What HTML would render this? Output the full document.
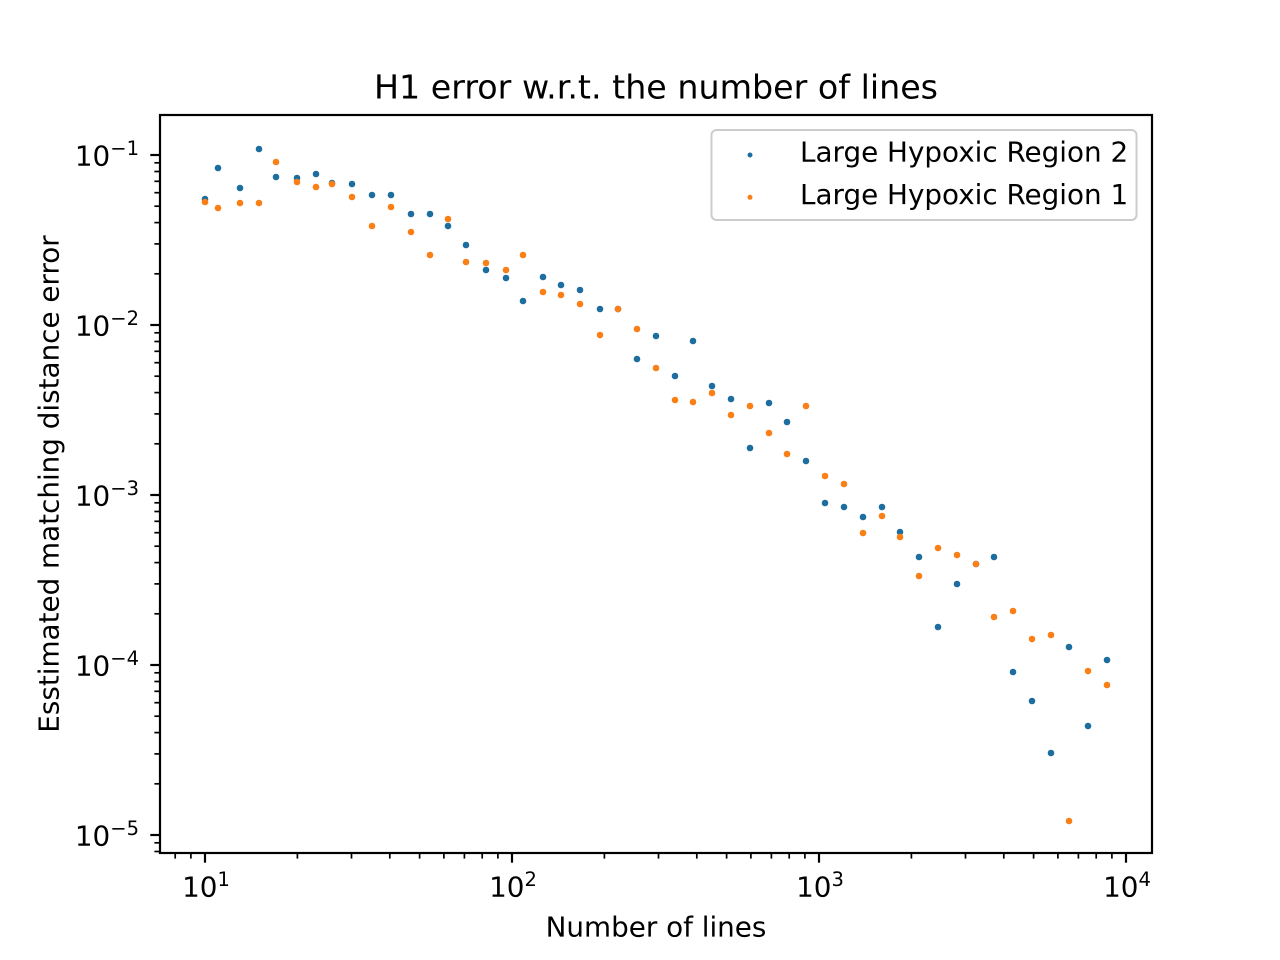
<!DOCTYPE html>
<html><head><meta charset="utf-8"><style>
html,body{margin:0;padding:0;background:#fff;}
svg{display:block;}
text{font-family:"DejaVu Sans","Liberation Sans",sans-serif;fill:#000;}
</style></head><body>
<svg width="1280" height="960" viewBox="0 0 1280 960" xmlns="http://www.w3.org/2000/svg">
<rect x="0" y="0" width="1280" height="960" fill="#fff"/>
<text x="656" y="98.5" font-size="33.3" text-anchor="middle">H1 error w.r.t. the number of lines</text>

<!-- blue series (Region 2) -->
<g fill="#1d6e9e">
<circle cx="205" cy="199" r="3.3"/><circle cx="218" cy="168" r="3.3"/><circle cx="240" cy="188" r="3.3"/><circle cx="259" cy="149" r="3.3"/><circle cx="276" cy="177" r="3.3"/><circle cx="297" cy="178" r="3.3"/><circle cx="316" cy="174" r="3.3"/><circle cx="332" cy="183" r="3.3"/><circle cx="352" cy="184" r="3.3"/><circle cx="372" cy="195" r="3.3"/><circle cx="391" cy="195" r="3.3"/><circle cx="411" cy="214" r="3.3"/><circle cx="430" cy="214" r="3.3"/><circle cx="448" cy="226" r="3.3"/><circle cx="466" cy="245" r="3.3"/><circle cx="486" cy="270" r="3.3"/><circle cx="506" cy="278" r="3.3"/><circle cx="523" cy="301" r="3.3"/><circle cx="543" cy="277" r="3.3"/><circle cx="561" cy="285" r="3.3"/><circle cx="580" cy="290" r="3.3"/><circle cx="600" cy="309" r="3.3"/><circle cx="618" cy="309" r="3.3"/><circle cx="637" cy="359" r="3.3"/><circle cx="656" cy="336" r="3.3"/><circle cx="675" cy="376" r="3.3"/><circle cx="693" cy="341" r="3.3"/><circle cx="712" cy="386" r="3.3"/><circle cx="731" cy="399" r="3.3"/><circle cx="750" cy="448" r="3.3"/><circle cx="769" cy="403" r="3.3"/><circle cx="787" cy="422" r="3.3"/><circle cx="806" cy="461" r="3.3"/><circle cx="825" cy="503" r="3.3"/><circle cx="844" cy="507" r="3.3"/><circle cx="863" cy="517" r="3.3"/><circle cx="882" cy="507" r="3.3"/><circle cx="900" cy="532" r="3.3"/><circle cx="919" cy="557" r="3.3"/><circle cx="938" cy="627" r="3.3"/><circle cx="957" cy="584" r="3.3"/><circle cx="976" cy="564" r="3.3"/><circle cx="994" cy="557" r="3.3"/><circle cx="1013" cy="672" r="3.3"/><circle cx="1032" cy="701" r="3.3"/><circle cx="1051" cy="753" r="3.3"/><circle cx="1069" cy="647" r="3.3"/><circle cx="1088" cy="726" r="3.3"/><circle cx="1107" cy="660" r="3.3"/>
</g>
<!-- orange series (Region 1) -->
<g fill="#fa7f16">
<circle cx="205" cy="202" r="3.3"/><circle cx="218" cy="208" r="3.3"/><circle cx="240" cy="203" r="3.3"/><circle cx="259" cy="203" r="3.3"/><circle cx="276" cy="162" r="3.3"/><circle cx="297" cy="182" r="3.3"/><circle cx="316" cy="187" r="3.3"/><circle cx="332" cy="184" r="3.3"/><circle cx="352" cy="197" r="3.3"/><circle cx="372" cy="226" r="3.3"/><circle cx="391" cy="207" r="3.3"/><circle cx="411" cy="232" r="3.3"/><circle cx="430" cy="255" r="3.3"/><circle cx="448" cy="219" r="3.3"/><circle cx="466" cy="262" r="3.3"/><circle cx="486" cy="263" r="3.3"/><circle cx="506" cy="270" r="3.3"/><circle cx="523" cy="255" r="3.3"/><circle cx="543" cy="292" r="3.3"/><circle cx="561" cy="295" r="3.3"/><circle cx="580" cy="304" r="3.3"/><circle cx="600" cy="335" r="3.3"/><circle cx="618" cy="309" r="3.3"/><circle cx="637" cy="329" r="3.3"/><circle cx="656" cy="368" r="3.3"/><circle cx="675" cy="400" r="3.3"/><circle cx="693" cy="402" r="3.3"/><circle cx="712" cy="393" r="3.3"/><circle cx="731" cy="415" r="3.3"/><circle cx="750" cy="406" r="3.3"/><circle cx="769" cy="433" r="3.3"/><circle cx="787" cy="454" r="3.3"/><circle cx="806" cy="406" r="3.3"/><circle cx="825" cy="476" r="3.3"/><circle cx="844" cy="484" r="3.3"/><circle cx="863" cy="533" r="3.3"/><circle cx="882" cy="516" r="3.3"/><circle cx="900" cy="537" r="3.3"/><circle cx="919" cy="576" r="3.3"/><circle cx="938" cy="548" r="3.3"/><circle cx="957" cy="555" r="3.3"/><circle cx="976" cy="564" r="3.3"/><circle cx="994" cy="617" r="3.3"/><circle cx="1013" cy="611" r="3.3"/><circle cx="1032" cy="639" r="3.3"/><circle cx="1051" cy="635" r="3.3"/><circle cx="1069" cy="821" r="3.3"/><circle cx="1088" cy="671" r="3.3"/><circle cx="1107" cy="685" r="3.3"/>
</g>

<!-- spines -->
<rect x="160" y="115" width="992" height="738" fill="none" stroke="#000" stroke-width="2.2"/>

<!-- x major ticks -->
<g stroke="#000" stroke-width="2.2">
<line x1="205" y1="853" x2="205" y2="862.7"/><line x1="512" y1="853" x2="512" y2="862.7"/><line x1="819" y1="853" x2="819" y2="862.7"/><line x1="1126" y1="853" x2="1126" y2="862.7"/>
</g>
<!-- x minor ticks -->
<g stroke="#000" stroke-width="1.7">
<line x1="175.2" y1="853" x2="175.2" y2="858.6"/><line x1="190.9" y1="853" x2="190.9" y2="858.6"/>
<line x1="297.4" y1="853" x2="297.4" y2="858.6"/><line x1="351.5" y1="853" x2="351.5" y2="858.6"/><line x1="389.8" y1="853" x2="389.8" y2="858.6"/><line x1="419.6" y1="853" x2="419.6" y2="858.6"/><line x1="443.9" y1="853" x2="443.9" y2="858.6"/><line x1="464.4" y1="853" x2="464.4" y2="858.6"/><line x1="482.2" y1="853" x2="482.2" y2="858.6"/><line x1="497.9" y1="853" x2="497.9" y2="858.6"/>
<line x1="604.4" y1="853" x2="604.4" y2="858.6"/><line x1="658.5" y1="853" x2="658.5" y2="858.6"/><line x1="696.8" y1="853" x2="696.8" y2="858.6"/><line x1="726.6" y1="853" x2="726.6" y2="858.6"/><line x1="750.9" y1="853" x2="750.9" y2="858.6"/><line x1="771.4" y1="853" x2="771.4" y2="858.6"/><line x1="789.2" y1="853" x2="789.2" y2="858.6"/><line x1="804.9" y1="853" x2="804.9" y2="858.6"/>
<line x1="911.4" y1="853" x2="911.4" y2="858.6"/><line x1="965.5" y1="853" x2="965.5" y2="858.6"/><line x1="1003.8" y1="853" x2="1003.8" y2="858.6"/><line x1="1033.6" y1="853" x2="1033.6" y2="858.6"/><line x1="1057.9" y1="853" x2="1057.9" y2="858.6"/><line x1="1078.4" y1="853" x2="1078.4" y2="858.6"/><line x1="1096.2" y1="853" x2="1096.2" y2="858.6"/><line x1="1111.9" y1="853" x2="1111.9" y2="858.6"/>
</g>
<!-- y major ticks -->
<g stroke="#000" stroke-width="2.2">
<line x1="160" y1="155" x2="150.3" y2="155"/><line x1="160" y1="325" x2="150.3" y2="325"/><line x1="160" y1="495" x2="150.3" y2="495"/><line x1="160" y1="665" x2="150.3" y2="665"/><line x1="160" y1="835" x2="150.3" y2="835"/>
</g>
<!-- y minor ticks -->
<g stroke="#000" stroke-width="1.7">
<line x1="160" y1="273.8" x2="154.4" y2="273.8"/><line x1="160" y1="243.9" x2="154.4" y2="243.9"/><line x1="160" y1="222.6" x2="154.4" y2="222.6"/><line x1="160" y1="206.2" x2="154.4" y2="206.2"/><line x1="160" y1="192.7" x2="154.4" y2="192.7"/><line x1="160" y1="181.3" x2="154.4" y2="181.3"/><line x1="160" y1="171.5" x2="154.4" y2="171.5"/><line x1="160" y1="162.8" x2="154.4" y2="162.8"/>
<line x1="160" y1="443.8" x2="154.4" y2="443.8"/><line x1="160" y1="413.9" x2="154.4" y2="413.9"/><line x1="160" y1="392.6" x2="154.4" y2="392.6"/><line x1="160" y1="376.2" x2="154.4" y2="376.2"/><line x1="160" y1="362.7" x2="154.4" y2="362.7"/><line x1="160" y1="351.3" x2="154.4" y2="351.3"/><line x1="160" y1="341.5" x2="154.4" y2="341.5"/><line x1="160" y1="332.8" x2="154.4" y2="332.8"/>
<line x1="160" y1="613.8" x2="154.4" y2="613.8"/><line x1="160" y1="583.9" x2="154.4" y2="583.9"/><line x1="160" y1="562.6" x2="154.4" y2="562.6"/><line x1="160" y1="546.2" x2="154.4" y2="546.2"/><line x1="160" y1="532.7" x2="154.4" y2="532.7"/><line x1="160" y1="521.3" x2="154.4" y2="521.3"/><line x1="160" y1="511.5" x2="154.4" y2="511.5"/><line x1="160" y1="502.8" x2="154.4" y2="502.8"/>
<line x1="160" y1="783.8" x2="154.4" y2="783.8"/><line x1="160" y1="753.9" x2="154.4" y2="753.9"/><line x1="160" y1="732.6" x2="154.4" y2="732.6"/><line x1="160" y1="716.2" x2="154.4" y2="716.2"/><line x1="160" y1="702.7" x2="154.4" y2="702.7"/><line x1="160" y1="691.3" x2="154.4" y2="691.3"/><line x1="160" y1="681.5" x2="154.4" y2="681.5"/><line x1="160" y1="672.8" x2="154.4" y2="672.8"/>
<line x1="160" y1="851.5" x2="154.4" y2="851.5"/><line x1="160" y1="842.8" x2="154.4" y2="842.8"/>
</g>

<!-- x tick labels -->
<g font-size="27.8" text-anchor="middle">
<text x="206" y="896.7">10<tspan font-size="19.5" dy="-10.5">1</tspan></text>
<text x="513" y="896.7">10<tspan font-size="19.5" dy="-10.5">2</tspan></text>
<text x="820" y="896.7">10<tspan font-size="19.5" dy="-10.5">3</tspan></text>
<text x="1127" y="896.7">10<tspan font-size="19.5" dy="-10.5">4</tspan></text>
</g>
<!-- y tick labels -->
<g font-size="27.8" text-anchor="end">
<text x="139" y="165.7">10<tspan font-size="19.5" dy="-10.5">−1</tspan></text>
<text x="139" y="335.7">10<tspan font-size="19.5" dy="-10.5">−2</tspan></text>
<text x="139" y="505.7">10<tspan font-size="19.5" dy="-10.5">−3</tspan></text>
<text x="139" y="675.7">10<tspan font-size="19.5" dy="-10.5">−4</tspan></text>
<text x="139" y="845.7">10<tspan font-size="19.5" dy="-10.5">−5</tspan></text>
</g>

<text x="656" y="936.5" font-size="27.8" text-anchor="middle">Number of lines</text>
<text transform="translate(58.5,484) rotate(-90)" font-size="27.8" text-anchor="middle">Esstimated matching distance error</text>

<!-- legend -->
<rect x="711.5" y="130" width="425" height="90" rx="5" ry="5" fill="#fff" fill-opacity="0.8" stroke="#cccccc" stroke-width="2"/>
<circle cx="750" cy="155" r="2.5" fill="#1d6e9e"/>
<circle cx="750" cy="197.3" r="2.5" fill="#fa7f16"/>
<text x="800" y="161.5" font-size="27.8">Large Hypoxic Region 2</text>
<text x="800" y="203.8" font-size="27.8">Large Hypoxic Region 1</text>
</svg>
</body></html>
